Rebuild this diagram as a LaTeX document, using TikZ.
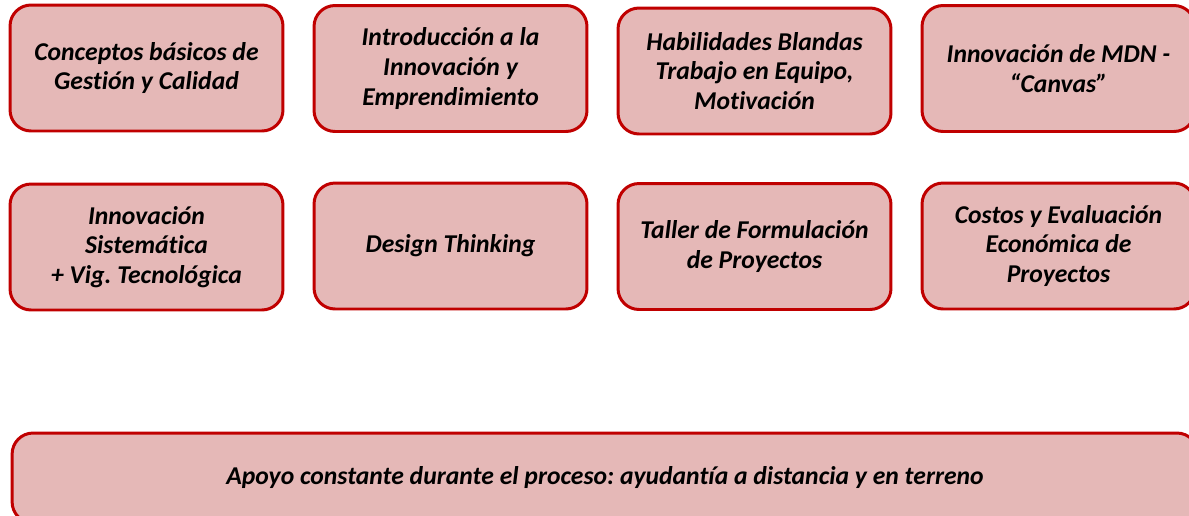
\documentclass[tikz,border=0pt]{standalone}
\usepackage{fontspec}
\setmainfont[Ligatures=NoCommon]{Carlito}
\usepackage{xcolor}
\usetikzlibrary{positioning}
\definecolor{boxfill}{RGB}{229,184,183}
\definecolor{boxline}{RGB}{192,0,0}
\frenchspacing

\begin{document}
\begin{tikzpicture}[x=0.02cm, y=-0.02cm,
    mod/.style={draw=boxline, fill=boxfill, line width=1.7pt,
      rounded corners=0.42cm, minimum width=5.46cm, minimum height=2.52cm,
      align=center, inner sep=2pt,
      font=\fontsize{14.6}{16.9}\selectfont\bfseries\itshape},
    wide/.style={mod, minimum width=23.72cm, minimum height=1.8cm}]
  \useasboundingbox (0,0) rectangle (1189,515);
  \clip (0,0) rectangle (1189,515);
  % first row
  \node[mod] (gestion) at (146.5,68) {Conceptos básicos de\\Gestión y Calidad};
  \node[mod] (innov) at (450.5,68.5) {Introducción a la\\Innovación y\\Emprendimiento};
  \node[mod] (blandas) at (754.5,71) {Habilidades Blandas\\Trabajo en Equipo,\\Motivación};
  \node[mod] (canvas) at (1058.5,68.5) {Innovación de MDN -\\“Canvas”};
  % second row
  \node[mod] (sistem) at (146.5,247) {Innovación\\Sistemática\\+ Vig. Tecnológica};
  \node[mod] (design) at (450.5,246) {Design Thinking};
  \node[mod] (taller) at (754.5,246.5) {Taller de Formulación\\de Proyectos};
  \node[mod] (costos) at (1058.5,246) {Costos y Evaluación\\Económica de\\Proyectos};
  % support
  \node[wide] (apoyo) at (605,478) {Apoyo constante durante el proceso: ayudantía a distancia y en terreno};
\end{tikzpicture}
\end{document}
